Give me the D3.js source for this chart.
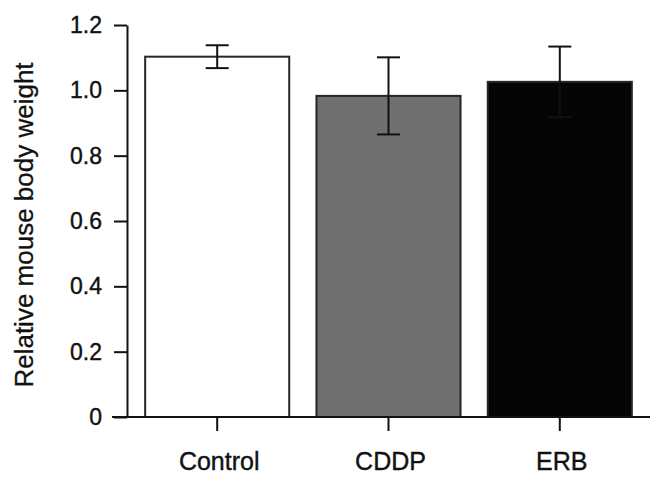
<!DOCTYPE html>
<html>
<head>
<meta charset="utf-8">
<script src="https://cdn.jsdelivr.net/npm/d3@7/dist/d3.min.js"></script>
<style>
  html, body { margin: 0; padding: 0; background: #fff; }
  svg { display: block; }
  text { font-family: "Liberation Sans", Arial, sans-serif; fill: #111; }
</style>
</head>
<body>
<svg id="chart" width="660" height="485"></svg>
<script>
const categories = ["Control", "CDDP", "ERB"];
const means = [1.103, 0.983, 1.026];
const errors = [0.035, 0.118, 0.108];
const barColors = ["#ffffff", "#707070", "#050505"];
const yTicks = [0, 0.2, 0.4, 0.6, 0.8, 1.0, 1.2];
const yTitle = "Relative mouse body weight";

const svg = d3.select("#chart");
const plot = { left: 127, right: 650, top: 25, bottom: 417 };

const x = d3.scaleBand()
  .domain(categories)
  .range([plot.left, plot.right])
  .paddingInner(0.159)
  .paddingOuter(0.106);

const y = d3.scaleLinear()
  .domain([0, 1.2])
  .range([plot.bottom, plot.top]);

// bars
svg.append("g").selectAll("rect")
  .data(categories)
  .join("rect")
  .attr("x", d => x(d))
  .attr("width", x.bandwidth())
  .attr("y", (d, i) => y(means[i]))
  .attr("height", (d, i) => y(0) - y(means[i]))
  .attr("fill", (d, i) => barColors[i])
  .attr("stroke", "#262626")
  .attr("stroke-width", 2);

// error bars
const capW = 23;
const eg = svg.append("g").attr("stroke", "#111").attr("stroke-width", 2).attr("fill", "none");
categories.forEach((c, i) => {
  const cx = x(c) + x.bandwidth() / 2;
  const yt = y(means[i] + errors[i]);
  const yb = y(means[i] - errors[i]);
  eg.append("line").attr("x1", cx).attr("x2", cx).attr("y1", yt).attr("y2", yb);
  eg.append("line").attr("x1", cx - capW / 2).attr("x2", cx + capW / 2).attr("y1", yt).attr("y2", yt);
  eg.append("line").attr("x1", cx - capW / 2).attr("x2", cx + capW / 2).attr("y1", yb).attr("y2", yb);
});

// y axis
const yAxis = d3.axisLeft(y)
  .tickValues(yTicks)
  .tickSize(13)
  .tickSizeOuter(0)
  .tickPadding(12)
  .tickFormat(d => d === 0 ? "0" : d3.format(".1f")(d));
const gy = svg.append("g")
  .attr("transform", `translate(${plot.left},0)`)
  .call(yAxis);
gy.selectAll("path, line").attr("stroke", "#111").attr("stroke-width", 2);
gy.selectAll("text").attr("font-size", 23).attr("fill", "#111")
  .attr("stroke", "#111").attr("stroke-width", 0.4);

// x axis
const xAxis = d3.axisBottom(x)
  .tickSize(14)
  .tickSizeOuter(0)
  .tickPadding(21);
const gx = svg.append("g")
  .attr("transform", `translate(0,${plot.bottom})`)
  .call(xAxis);
gx.select(".domain").remove();
gx.selectAll("line").attr("stroke", "#111").attr("stroke-width", 2);
gx.selectAll("text").attr("font-size", 25).attr("fill", "#111").attr("dx", 2)
  .attr("stroke", "#111").attr("stroke-width", 0.4);
// x baseline extends left past y axis
svg.append("line")
  .attr("x1", plot.left - 15).attr("x2", plot.right)
  .attr("y1", plot.bottom).attr("y2", plot.bottom)
  .attr("stroke", "#111").attr("stroke-width", 2);

// y title
svg.append("text")
  .attr("transform", `translate(33,${(plot.top + plot.bottom) / 2 + 4}) rotate(-90)`)
  .attr("text-anchor", "middle")
  .attr("font-size", 26)
  .attr("stroke", "#111").attr("stroke-width", 0.3)
  .text(yTitle);
</script>
</body>
</html>
